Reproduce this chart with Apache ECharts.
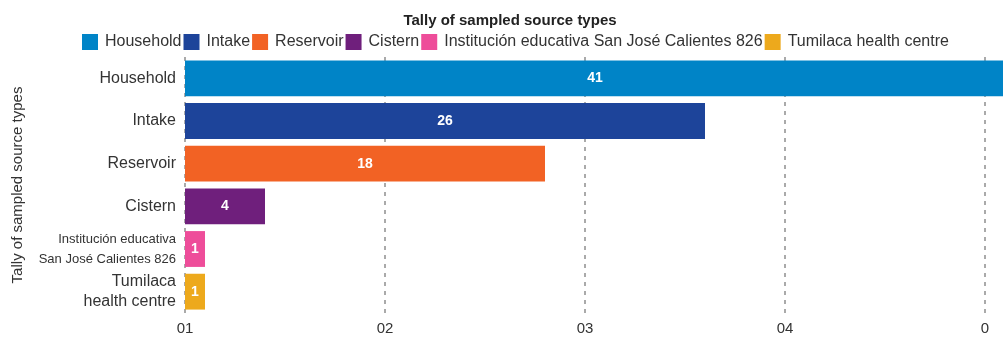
<!DOCTYPE html>
<html>
<head>
<meta charset="utf-8">
<script src="https://cdn.jsdelivr.net/npm/echarts@6/dist/echarts.min.js"></script>
<style>
html,body{margin:0;padding:0;background:#fff;}
#chart{width:1003px;height:337px;}
</style>
</head>
<body>
<div id="chart"></div>
<script>
const categories = ["Household","Intake","Reservoir","Cistern","Institución educativa San José Calientes 826","Tumilaca health centre"];
const axisLabels = ["Household","Intake","Reservoir","Cistern","Institución educativa\nSan José Calientes 826","Tumilaca\nhealth centre"];
const values = [41, 26, 18, 4, 1, 1];
const colors = ["#0084C7","#1D449A","#F26224","#6F1F7C","#EE4D9A","#EDA91C"];
const tickLabels = ["01","02","03","04","0"];

const chart = echarts.init(document.getElementById('chart'), null, {renderer:'canvas'});
const FONT = '"Liberation Sans", Arial, sans-serif';

const series = categories.map((name, i) => ({
  name: name,
  type: 'bar',
  stack: 'total',
  barCategoryGap: '16%',
  itemStyle: { color: colors[i] },
  label: {
    show: true, position: 'inside', color: '#fff', fontWeight: 'bold',
    fontSize: 14, fontFamily: FONT,
    formatter: p => p.value
  },
  data: values.map((v, j) => j === i ? v : '-')
}));

chart.setOption({
  animation: false,
  title: {
    text: 'Tally of sampled source types', left: 505, textAlign: 'center', top: 8,
    textStyle: { fontFamily: FONT, fontSize: 15, fontWeight: 'bold', color: '#222' }
  },
  legend: {
    top: 34, left: 82, padding: 0, itemWidth: 16, itemHeight: 16, itemGap: 2,
    icon: 'rect',
    textStyle: { fontFamily: FONT, fontSize: 16, color: '#333', padding: [0,0,0,2] },
    data: categories
  },
  grid: { left: 185, top: 57, bottom: 24, width: 1000, containLabel: false, outerBoundsMode: 'none' },
  xAxis: {
    type: 'value', min: 0, max: 50, interval: 10,
    axisLine: { show: false }, axisTick: { show: false },
    splitLine: { show: true, lineStyle: { type: [4, 5], color: '#aaa', width: 2 } },
    axisLabel: {
      fontFamily: FONT, fontSize: 15, color: '#333', margin: 8,
      formatter: v => tickLabels[Math.round(v / 10)] || ''
    }
  },
  yAxis: {
    type: 'category', inverse: true,
    data: axisLabels.map((t, i) => i === 4 ? { value: t, textStyle: { fontSize: 13, lineHeight: 20 } } : { value: t }),
    axisLine: { show: false }, axisTick: { show: false },
    axisLabel: { fontFamily: FONT, fontSize: 16, color: '#333', margin: 9, lineHeight: 20 },
    name: 'Tally of sampled source types', nameLocation: 'middle', nameRotate: 90, nameGap: 160,
    nameTextStyle: { fontFamily: FONT, fontSize: 15, color: '#333' }
  },
  series: series
});
</script>
</body>
</html>
